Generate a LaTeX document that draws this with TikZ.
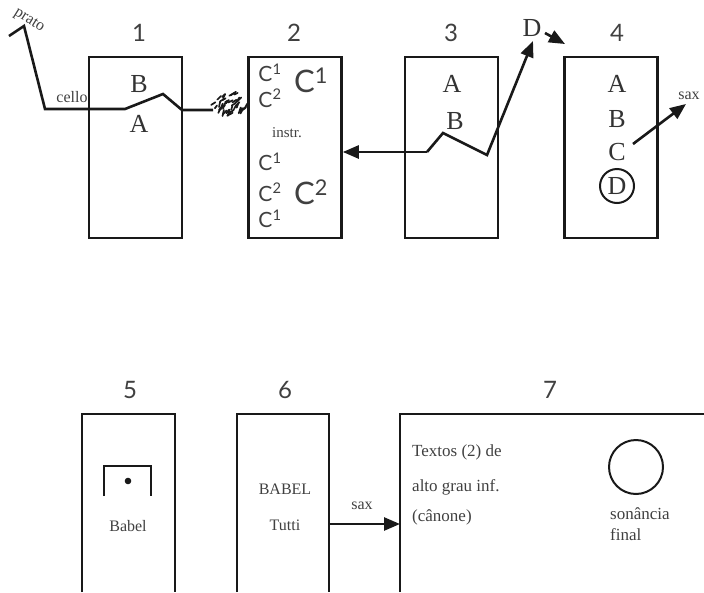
\documentclass[tikz,border=0pt]{standalone}
\usepackage{fontspec}
\setmainfont{Liberation Serif}
\newfontfamily\numfont{Lato}
\usetikzlibrary{arrows.meta}
\begin{document}
\begin{tikzpicture}[x=1pt,y=-1pt,
  line join=miter,
  thick/.style={line width=2.6pt, draw=black!90},
  box/.style={thick, rectangle, minimum width=93pt, minimum height=181pt, inner sep=0pt},
  num/.style={font=\numfont\fontsize{24}{28}\selectfont, text=black!75, inner sep=0pt},
  big/.style={font=\fontsize{26}{28}\selectfont, text=black!80, inner sep=0pt},
  small/.style={font=\fontsize{16}{19}\selectfont, text=black!75, inner sep=0pt},
  smallC/.style={font=\numfont\fontsize{21}{24}\selectfont, text=black!75, inner sep=0pt},
  bigC/.style={font=\numfont\fontsize{31}{34}\selectfont, text=black!75, inner sep=0pt},
  txt/.style={font=\fontsize{17}{20}\selectfont, text=black!75, inner sep=0pt, anchor=west},
  arr/.style={thick, -{Triangle[length=16pt,width=13pt]}}
]
\useasboundingbox (0,0) rectangle (704,592);

% top boxes
\node[box] (b1) at (135.5,147.5) {};
\node[box] (b2) at (295,147.5) {};
\node[box] (b3) at (451.5,147.5) {};
\node[box] (b4) at (611,147.5) {};
\node[num] (n1) at (139,33) {1};
\node[num] (n2) at (294,33) {2};
\node[num] (n3) at (451,33) {3};
\node[num] (n4) at (617,33) {4};

% box 1
\node[big] (b1B) at (139,84) {B};
\node[big] (b1A) at (139,124) {A};
\node[small, rotate=-32] (prato) at (29,21) {prato};
\node[small] (cello) at (72,97) {cello};
\coordinate (p0) at (9,36);
\coordinate (p1) at (24,26);
\coordinate (p2) at (45,109);
\coordinate (p3) at (125,109);
\coordinate (p4) at (163,94);
\coordinate (p5) at (182,110);
\coordinate (p6) at (213,110);
\draw[thick] (p0) -- (p1) -- (p2) -- (p3) -- (p4) -- (p5) -- (p6);
% scribble
\pgfmathsetseed{7}
\foreach \i in {1,...,42}{
  \pgfmathsetmacro{\ang}{360*rnd}
  \pgfmathsetmacro{\rad}{sqrt(rnd)}
  \pgfmathsetmacro{\px}{230+17*\rad*cos(\ang)}
  \pgfmathsetmacro{\py}{104+11*\rad*sin(\ang)}
  \pgfmathsetmacro{\rot}{25+55*rnd}
  \pgfmathsetmacro{\len}{1.6+1.6*rnd}
  \draw[line width=1.7pt, black!90, line cap=round]
    ({\px-\len*cos(\rot)},{\py+\len*sin(\rot)}) -- ({\px+\len*cos(\rot)},{\py-\len*sin(\rot)});
}

% box 2
\node[smallC] (c1a) at (270,73) {C\textsuperscript{1}};
\node[smallC] (c2a) at (270,98) {C\textsuperscript{2}};
\node[bigC] (C1) at (311,80) {C\textsuperscript{1}};
\node[small, font=\fontsize{15}{18}\selectfont] (instr) at (287,133) {instr.};
\node[smallC] (c1b) at (270,162) {C\textsuperscript{1}};
\node[smallC] (c2b) at (270,192) {C\textsuperscript{2}};
\node[bigC] (C2) at (311,192) {C\textsuperscript{2}};
\node[smallC] (c1c) at (270,219) {C\textsuperscript{1}};

% box 3
\node[big] (b3A) at (452,84) {A};
\node[big] (b3B) at (455,121) {B};
\coordinate (q0) at (427,152);
\coordinate (q1) at (443,133);
\coordinate (q2) at (487,155);
\coordinate (q3) at (533,41);
\draw[arr] (q0) -- (b2.east |- q0);
\draw[arr] (q0) -- (q1) -- (q2) -- (q3);
\node[big] (Dtop) at (532,28) {D};
\coordinate (d0) at (545,33);
\coordinate (d1) at (565,44);
\draw[arr] (d0) -- (d1);

% box 4
\node[big] (b4A) at (617,84) {A};
\node[big] (b4B) at (617,119) {B};
\node[big] (b4C) at (617,152) {C};
\node[big] (b4D) at (617,186) {D};
\draw[line width=2pt, black!90] (b4D) circle (17);
\coordinate (s0) at (633,144);
\coordinate (s1) at (686,104);
\draw[arr] (s0) -- (s1);
\node[small] (sax1) at (689,96) {sax};

% bottom boxes
\coordinate (b5bl) at (82,592);
\coordinate (b5tr) at (175,414);
\coordinate (b5br) at (175,592);
\draw[thick] (b5bl) |- (b5tr) -- (b5br);
\coordinate (b6bl) at (237,592);
\coordinate (b6tr) at (329,414);
\coordinate (b6br) at (329,592);
\draw[thick] (b6bl) |- (b6tr) -- (b6br);
\coordinate (b7bl) at (400,592);
\coordinate (b7tr) at (704,414);
\draw[thick] (b7bl) |- (b7tr);
\node[num] (n5) at (130,390) {5};
\node[num] (n6) at (285,390) {6};
\node[num] (n7) at (550,390) {7};

% box 5
\coordinate (k0) at (104,496);
\coordinate (k1) at (151,466);
\coordinate (k2) at (151,496);
\draw[thick] (k0) |- (k1) -- (k2);
\fill[black!90] (128,481) circle (3.3);
\node[small] (babel) at (128,526) {Babel};

% box 6
\node[small] (BABEL) at (285,489) {BABEL};
\node[small] (tutti) at (285,525) {Tutti};
\coordinate (t0) at (329,524);
\coordinate (t1) at (400,524);
\draw[arr] (t0) -- (t1);
\node[small] (sax2) at (362,506) {sax};

% box 7
\node[txt] (l1) at (412,452) {Textos (2) de};
\node[txt] (l2) at (412,487) {alto grau inf.};
\node[txt] (l3) at (412,517) {(cânone)};
\draw[line width=2pt, black!90] (636,467) circle (27);
\node[txt] (son) at (610,514) {sonância};
\node[txt] (fin) at (610,535) {final};
\end{tikzpicture}
\end{document}
